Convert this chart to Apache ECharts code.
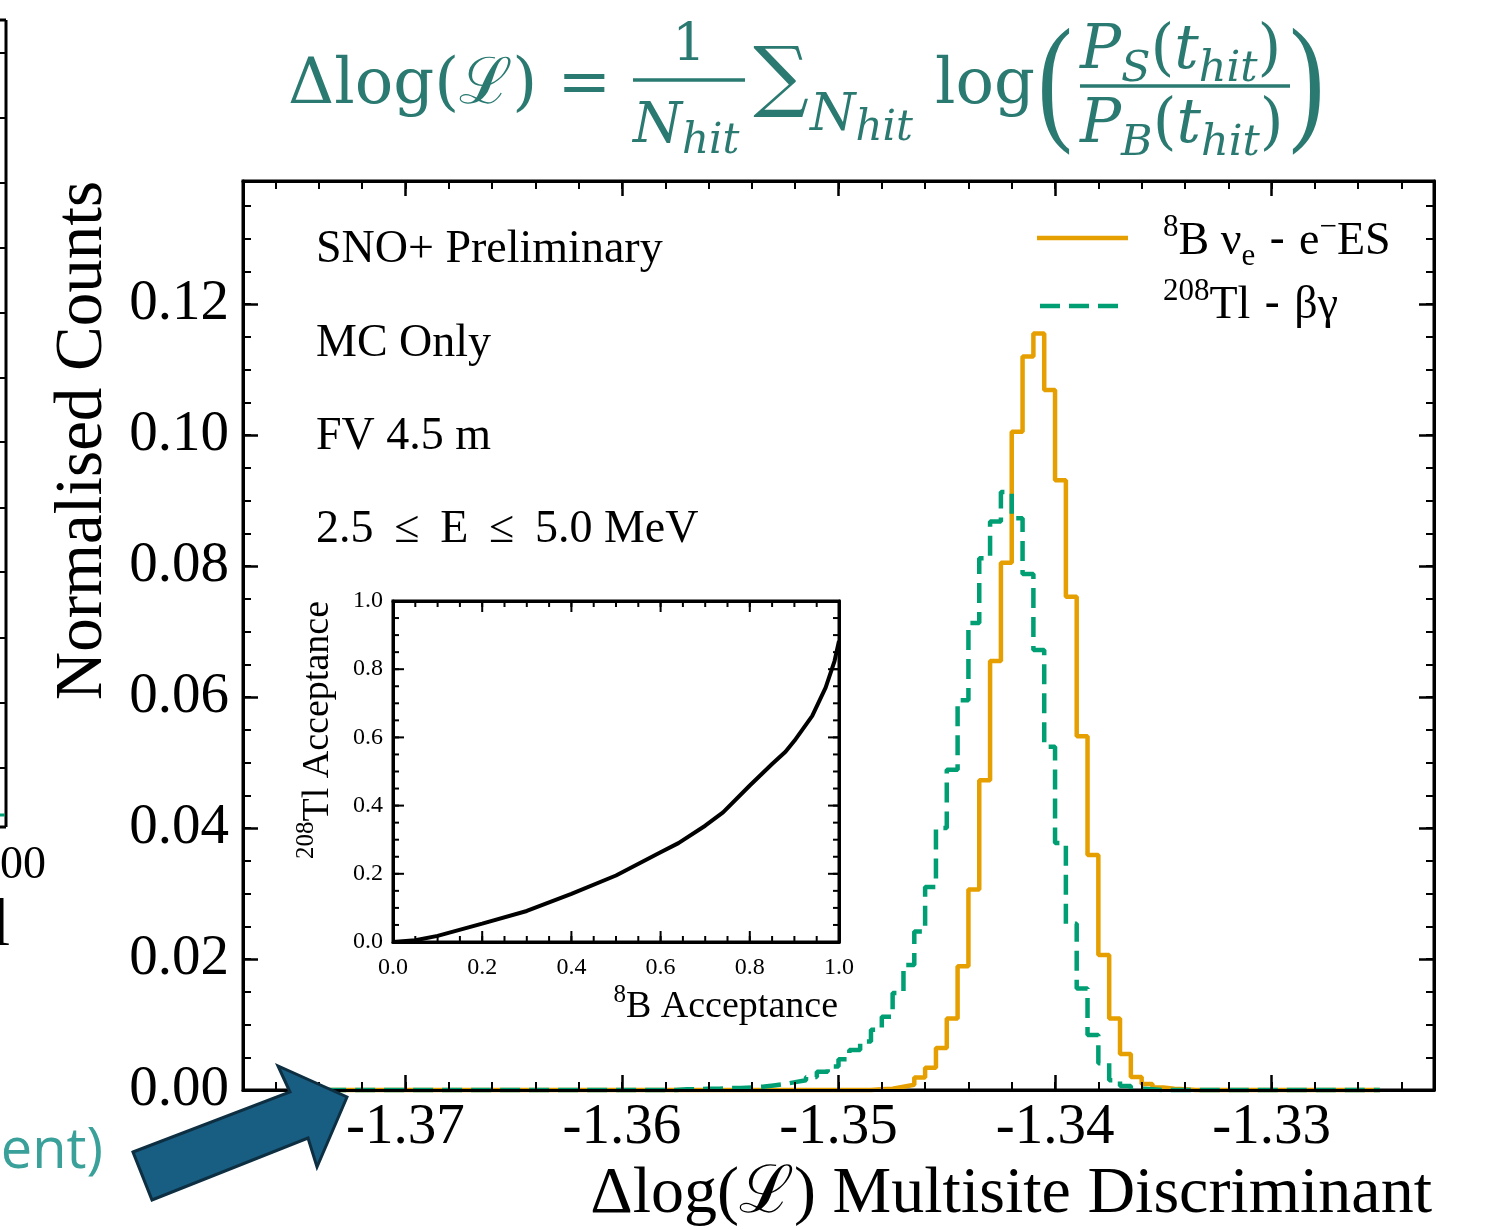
<!DOCTYPE html>
<html>
<head>
<meta charset="utf-8">
<title>Multisite discriminant</title>
<script src="https://cdn.jsdelivr.net/npm/echarts@6/dist/echarts.min.js"></script>
<style>
html, body { margin: 0; padding: 0; background: #ffffff; }
#chart { width: 1506px; height: 1230px; }
</style>
</head>
<body>
<div id="chart"></div>
<script>
// ---- Histogram binning of the discriminant ----
const binStart = -1.375;
const binWidth = 0.0005;
const binCount = 100;

// 8B nu_e - e- ES : normalised counts from the first non-empty bin
const b8FirstBin = 53;
const b8Counts = [0.0001, 0.0002, 0.0005, 0.0008, 0.0019, 0.0034, 0.0064, 0.0109, 0.0189, 0.0306,
  0.0473, 0.0655, 0.0805, 0.1005, 0.1120, 0.1155, 0.1069, 0.0931, 0.0753, 0.0540,
  0.0359, 0.0206, 0.0109, 0.0055, 0.0020, 0.0009, 0.0004, 0.0002, 0.0001];

// 208Tl beta-gamma : normalised counts from the first non-empty bin
const tl208FirstBin = 35;
const tl208Counts = [0.0001, 0.0001, 0.0002, 0.0002, 0.0003,
  0.0003, 0.0004, 0.0005, 0.0007, 0.0009, 0.0012, 0.0015, 0.0020, 0.0028, 0.0036,
  0.0047, 0.0061, 0.0074, 0.0092, 0.0112, 0.0148, 0.0191, 0.0242, 0.0310, 0.0400,
  0.0489, 0.0595, 0.0713, 0.0812, 0.0868, 0.0913, 0.0873, 0.0788, 0.0672, 0.0524,
  0.0377, 0.0254, 0.0155, 0.0084, 0.0041, 0.0015, 0.0006, 0.0002, 0.0001];

// Acceptance curve (inset)
const b8Acceptance = [0, 0.05, 0.1, 0.2, 0.3, 0.4, 0.5, 0.6, 0.64, 0.7, 0.74, 0.8, 0.85, 0.88, 0.9, 0.94, 0.97, 0.99, 1.0];
const tl208Acceptance = [0, 0.005, 0.018, 0.054, 0.091, 0.141, 0.195, 0.263, 0.29, 0.341, 0.38, 0.459, 0.522, 0.558, 0.59, 0.663, 0.746, 0.824, 0.883];

// Tick labels
const xTickValues = [-1.37, -1.36, -1.35, -1.34, -1.33];
const yTickValues = [0, 0.02, 0.04, 0.06, 0.08, 0.10, 0.12];
const insetTickValues = [0, 0.2, 0.4, 0.6, 0.8, 1.0];

// Axis ranges
const xRange = [-1.3775, -1.3225];
const yRange = [0, 0.1388];
const insetRange = [0, 1];

// ---- helpers ----
const SERIF = '"Liberation Serif", "Times New Roman", serif';
const MATH = '"DejaVu Serif", serif';
const TEAL = '#2a7a72';
const ORANGE = '#E69F00';
const GREEN = '#009E73';

function stepSeriesData(firstBin, counts) {
  const pts = [[binStart, 0]];
  for (let k = 0; k < binCount; k++) {
    const i = k - firstBin;
    const v = (i >= 0 && i < counts.length) ? counts[i] : 0;
    pts.push([+(binStart + k * binWidth).toFixed(5), v]);
  }
  pts.push([+(binStart + binCount * binWidth).toFixed(5), 0]);
  return pts;
}

const xMinorTicks = [];
for (let k = 0; k <= 26; k++) xMinorTicks.push(+(-1.376 + 0.002 * k).toFixed(3));
const yMinorTicks = [];
for (let k = 1; k <= 27; k++) yMinorTicks.push(+(0.005 * k).toFixed(3));
const insetMinorTicks = [];
for (let k = 1; k <= 19; k++) insetMinorTicks.push(+(0.05 * k).toFixed(2));

const rocData = b8Acceptance.map((x, i) => [x, tl208Acceptance[i]]);

// one axis of a panel; frame axes carry the spine, overlay axes only carry minor ticks
function makeAxis(range, gridIndex, position, ticks, len, width, frame, label) {
  return {
    type: 'value', gridIndex: gridIndex, position: position,
    min: range[0], max: range[1], z: 12,
    axisLine: frame ? { show: true, onZero: false, lineStyle: { color: '#000', width: 3 } }
                    : { show: false, onZero: false },
    splitLine: { show: false },
    axisTick: ticks ? { show: true, inside: true, length: len, customValues: ticks.slice(),
      lineStyle: { color: '#000', width: width } } : { show: false },
    axisLabel: label ? Object.assign({
      show: true, customValues: label.values.slice(), color: '#000', fontFamily: SERIF
    }, label.style) : { show: false }
  };
}
const mainXLabel = { values: xTickValues, style: { fontSize: 57, margin: 10, formatter: v => v.toFixed(2) } };
const mainYLabel = { values: yTickValues, style: { fontSize: 57, margin: 14, formatter: v => v.toFixed(2) } };
const insetXLabel = { values: insetTickValues, style: { fontSize: 24, margin: 14, formatter: v => v.toFixed(1) } };
const insetYLabel = { values: insetTickValues, style: { fontSize: 24, margin: 10, formatter: v => v.toFixed(1) } };

const legendRich = {
  n: { fontSize: 46, fontFamily: SERIF, lineHeight: 60, fill: '#000' },
  s: { fontSize: 44, fontFamily: '"DejaVu Sans", sans-serif', lineHeight: 60, fill: '#000' },
  sup: { fontSize: 31, fontFamily: SERIF, lineHeight: 26, verticalAlign: 'top', fill: '#000' },
  sub: { fontSize: 31, fontFamily: SERIF, lineHeight: 42, verticalAlign: 'bottom', fill: '#000' }
};
const insetRich = {
  n: { fontSize: 38, fontFamily: SERIF, lineHeight: 48, fill: '#000' },
  sup: { fontSize: 25, fontFamily: SERIF, lineHeight: 22, verticalAlign: 'top', fill: '#000' }
};
function mathRich(size, subSize) {
  return {
    r: { fontSize: size, fontFamily: MATH, fill: TEAL, lineHeight: size * 1.3 },
    i: { fontSize: size, fontFamily: MATH, fontStyle: 'italic', fill: TEAL, lineHeight: size * 1.3 },
    sb: { fontSize: subSize, fontFamily: MATH, fontStyle: 'italic', fill: TEAL,
      lineHeight: subSize * 1.25, verticalAlign: 'bottom' }
  };
}

function txt(x, y, text, opts) {
  const o = opts || {};
  const style = {
    text: text, fill: o.fill || '#000',
    fontSize: o.fontSize || 46, fontFamily: o.fontFamily || SERIF,
    fontStyle: o.fontStyle || 'normal',
    align: o.align || 'left', textAlign: o.align || 'left',
    verticalAlign: 'middle', textVerticalAlign: 'middle'
  };
  if (o.rich) style.rich = o.rich;
  return {
    type: 'text', x: x, y: y, z: o.z || 50, rotation: o.rotation || 0,
    scaleX: o.scaleX || 1, silent: true, style: style
  };
}
function seg(x1, y1, x2, y2, color, width, dash, z) {
  const style = { stroke: color, lineWidth: width };
  if (dash) style.lineDash = dash;
  return { type: 'line', z: z || 50, silent: true, shape: { x1: x1, y1: y1, x2: x2, y2: y2 }, style: style };
}

const leftTicksY = [53, 118, 183, 248, 313, 378, 442, 508, 572, 638, 703, 768];

const graphics = [
  // formula heading
  txt(288, 86, 'Δlog(ℒ) =', { fill: TEAL, fontSize: 64, fontFamily: MATH }),
  txt(689, 46, '1', { fill: TEAL, fontSize: 52, fontFamily: MATH, align: 'center' }),
  seg(633, 80, 745, 80, TEAL, 3.5),
  txt(633, 127, '{i|N}{sb|hit}', { rich: mathRich(56, 42) }),
  txt(781, 82, '∑', { fill: TEAL, fontSize: 78, fontFamily: MATH, align: 'center' }),
  txt(810, 116, '{i|N}{sb|hit}', { rich: mathRich(52, 42) }),
  txt(935, 86, 'log', { fill: TEAL, fontSize: 64, fontFamily: MATH }),
  txt(1055, 88, '(', { fill: TEAL, fontSize: 140, fontFamily: SERIF, align: 'center', scaleX: 0.75 }),
  txt(1080, 52, '{i|P}{sb|S}{r|(}{i|t}{sb|hit}{r|)}', { rich: mathRich(61, 43) }),
  seg(1080, 86, 1290, 86, TEAL, 3.5),
  txt(1080, 126, '{i|P}{sb|B}{r|(}{i|t}{sb|hit}{r|)}', { rich: mathRich(61, 43) }),
  txt(1307, 88, ')', { fill: TEAL, fontSize: 140, fontFamily: SERIF, align: 'center', scaleX: 0.75 }),

  // annotations
  txt(316, 250, 'SNO+ Preliminary'),
  txt(316, 344, 'MC Only'),
  txt(316, 437, 'FV 4.5 m'),
  txt(316, 530, '2.5 \u2009≤\u2009 E \u2009≤\u2009 5.0 MeV'),

  // legend
  seg(1037, 238, 1128, 238, ORANGE, 4.5),
  seg(1040, 306, 1127, 306, GREEN, 4.5, [20, 9]),
  txt(1163, 242, '{sup|8}{n|B ν}{sub|e}{s| - }{n|e}{sup|−}{n|ES}', { rich: legendRich }),
  txt(1163, 306, '{sup|208}{n|Tl}{s| - }{n|βγ}', { rich: legendRich }),

  // axis titles
  txt(1432, 1195, 'Δlog(ℒ) Multisite Discriminant', { fontSize: 66, align: 'right' }),
  txt(83, 181, 'Normalised Counts', { fontSize: 67, align: 'right', rotation: Math.PI / 2 }),
  txt(838, 1007, '{sup|8}{n|B Acceptance}', { rich: insetRich, align: 'right' }),
  txt(318, 601, '{sup|208}{n|Tl Acceptance}', { rich: insetRich, align: 'right', rotation: Math.PI / 2 }),

  // neighbouring panel edge
  seg(6, 20, 6, 827, '#000', 3),
  seg(0, 20, 6, 20, '#000', 3),
  seg(0, 827, 6, 827, '#000', 3),
  seg(0, 815, 5, 815, GREEN, 3),
  txt(46, 866, '00', { fontSize: 46, align: 'right' }),
  txt(10, 927, 'l', { fontSize: 67, align: 'right' }),
  txt(103, 1152, 'ent)', { fill: '#3aa09a', fontSize: 56, fontFamily: '"Open Sans", "Noto Sans", sans-serif', align: 'right' }),

  // pointer arrow
  {
    type: 'polygon', z: 100, silent: true,
    shape: { points: [[133, 1152], [290, 1092], [278, 1066], [347, 1097], [317, 1167], [308, 1138], [152, 1200]] },
    style: { fill: '#175e82', stroke: '#0e2f42', lineWidth: 3, lineJoin: 'miter' }
  }
];
leftTicksY.forEach(y => graphics.push(seg(0, y, 6, y, '#000', 2)));

const mainRect = { left: 243, top: 181, width: 1191, height: 909 };
const insetRect = { left: 393, top: 601, width: 446, height: 341 };
function gridAt(rect, frame) {
  return Object.assign({
    show: frame, borderColor: '#000', borderWidth: 3, backgroundColor: 'transparent',
    outerBoundsMode: 'none', containLabel: false
  }, rect);
}

const chart = echarts.init(document.getElementById('chart'), null, { renderer: 'canvas' });
chart.setOption({
  animation: false,
  backgroundColor: '#ffffff',
  grid: [
    gridAt(insetRect, true),   // 0: inset panel
    gridAt(mainRect, true),    // 1: main panel, major ticks
    gridAt(mainRect, false)    // 2: main panel minor ticks
  ],
  xAxis: [
    makeAxis(insetRange, 0, 'bottom', null, 0, 0, true, insetXLabel),
    makeAxis(insetRange, 0, 'top', null, 0, 0, true, null),
    makeAxis(xRange, 1, 'bottom', xTickValues, 15, 2.5, true, mainXLabel),
    makeAxis(xRange, 1, 'top', xTickValues, 15, 2.5, true, null),
    makeAxis(xRange, 2, 'bottom', xMinorTicks, 8, 2, false, null),
    makeAxis(xRange, 2, 'top', xMinorTicks, 8, 2, false, null)
  ],
  yAxis: [
    makeAxis(insetRange, 0, 'left', null, 0, 0, true, insetYLabel),
    makeAxis(insetRange, 0, 'right', null, 0, 0, true, null),
    makeAxis(yRange, 1, 'left', yTickValues, 15, 2.5, true, mainYLabel),
    makeAxis(yRange, 1, 'right', yTickValues, 15, 2.5, true, null),
    makeAxis(yRange, 2, 'left', yMinorTicks, 8, 2, false, null),
    makeAxis(yRange, 2, 'right', yMinorTicks, 8, 2, false, null)
  ],
  series: [
    {
      name: '8B', type: 'line', xAxisIndex: 2, yAxisIndex: 2, step: 'end',
      data: stepSeriesData(b8FirstBin, b8Counts), symbol: 'none', clip: false,
      lineStyle: { color: ORANGE, width: 4.5 }, z: 3
    },
    {
      name: '208Tl', type: 'line', xAxisIndex: 2, yAxisIndex: 2, step: 'end',
      data: stepSeriesData(tl208FirstBin, tl208Counts), symbol: 'none', clip: false,
      lineStyle: { color: GREEN, width: 4.5, type: [20, 9] }, z: 4
    },
    {
      name: 'ROC', type: 'line', xAxisIndex: 0, yAxisIndex: 0,
      data: rocData, symbol: 'none', clip: true,
      lineStyle: { color: '#000', width: 4 }, z: 13
    }
  ],
  graphic: graphics
});

// Inset tick marks, placed through the inset axes' own scales (inward on all four sides)
function insetTickMarks(values, len) {
  const toX = v => chart.convertToPixel({ xAxisIndex: 0 }, v);
  const toY = v => chart.convertToPixel({ yAxisIndex: 0 }, v);
  const left = toX(insetRange[0]), right = toX(insetRange[1]);
  const bottom = toY(insetRange[0]), top = toY(insetRange[1]);
  const marks = [];
  values.forEach(v => {
    const px = toX(v), py = toY(v);
    marks.push(seg(px, bottom, px, bottom - len, '#000', 2, null, 60));
    marks.push(seg(px, top, px, top + len, '#000', 2, null, 60));
    marks.push(seg(left, py, left + len, py, '#000', 2, null, 60));
    marks.push(seg(right, py, right - len, py, '#000', 2, null, 60));
  });
  return marks;
}
const insetTicks = insetTickMarks(insetTickValues, 11).concat(insetTickMarks(insetMinorTicks, 6));
chart.setOption({ graphic: graphics.concat(insetTicks) });
</script>
</body>
</html>
